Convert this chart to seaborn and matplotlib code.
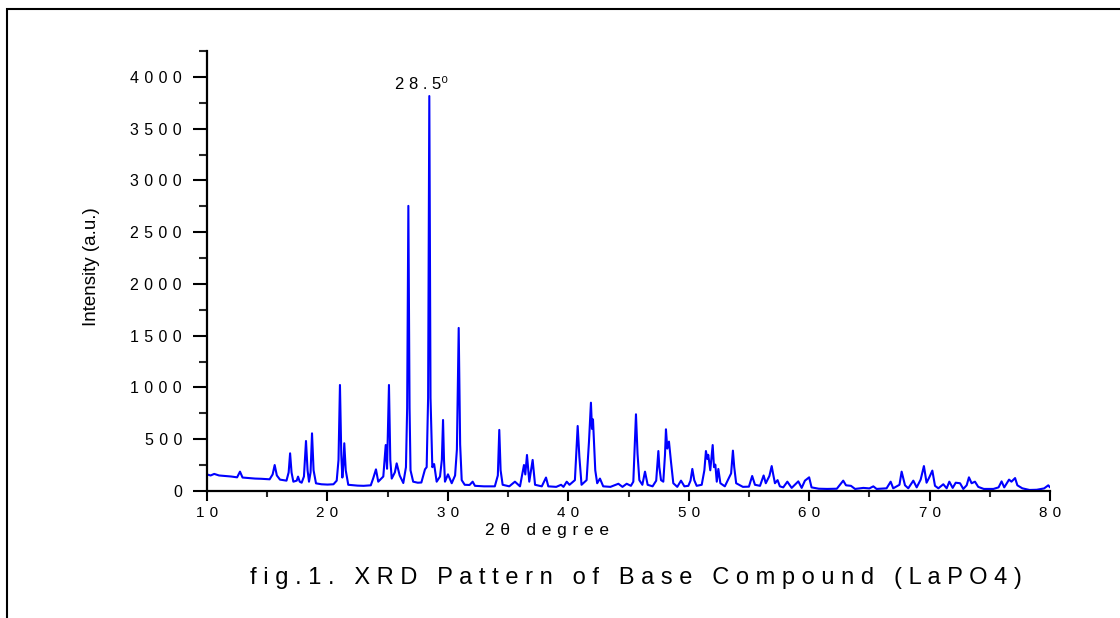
import matplotlib
matplotlib.use("Agg")
import matplotlib.pyplot as plt
import seaborn as sns
import pandas as pd
from matplotlib.patches import Rectangle
from matplotlib.ticker import FixedLocator, FixedFormatter, MultipleLocator

# ---- data ----
two_theta = [
    10.0, 10.3, 10.6, 11.0, 11.5, 12.0, 12.5, 12.74, 12.95, 13.5, 14.0, 14.5, 15.2, 15.45, 15.62, 15.8,
    16.06, 16.6, 16.78, 16.9, 17.02, 17.17, 17.45, 17.56, 17.7, 17.86, 18.05, 18.22, 18.35, 18.47, 18.6,
    18.72, 18.85, 19.05, 19.5, 20.0, 20.5, 20.77, 20.92, 21.04, 21.15, 21.24, 21.32, 21.4, 21.52, 21.73,
    22.5, 23.0, 23.6, 23.8, 24.03, 24.22, 24.64, 24.84, 24.95, 25.11, 25.22, 25.34, 25.6, 25.75, 25.89,
    26.0, 26.3, 26.52, 26.62, 26.72, 26.82, 26.9, 27.12, 27.5, 27.8, 28.1, 28.24, 28.36, 28.46, 28.56,
    28.71, 28.86, 29.07, 29.35, 29.5, 29.6, 29.68, 29.76, 30.01, 30.32, 30.6, 30.75, 30.9, 31.02, 31.15,
    31.4, 31.8, 32.06, 32.25, 33.0, 33.9, 34.15, 34.27, 34.38, 34.55, 35.1, 35.57, 35.99, 36.32, 36.43,
    36.57, 36.76, 37.04, 37.24, 37.8, 38.15, 38.34, 39.0, 39.4, 39.6, 39.87, 40.1, 40.55, 40.78, 40.92,
    41.1, 41.52, 41.72, 41.88, 41.97, 42.05, 42.24, 42.4, 42.63, 42.9, 43.5, 44.16, 44.5, 44.85, 45.2,
    45.4, 45.62, 45.75, 45.9, 46.15, 46.37, 46.59, 47.0, 47.3, 47.48, 47.56, 47.7, 47.89, 48.03, 48.11,
    48.22, 48.36, 48.53, 48.72, 49.05, 49.36, 49.64, 49.97, 50.15, 50.3, 50.46, 50.66, 51.08, 51.3,
    51.43, 51.54, 51.62, 51.79, 51.99, 52.1, 52.21, 52.33, 52.46, 52.63, 53.0, 53.52, 53.67, 53.78,
    53.94, 54.5, 55.0, 55.27, 55.5, 55.92, 56.22, 56.4, 56.7, 56.89, 57.0, 57.16, 57.38, 57.57, 57.85,
    58.19, 58.55, 59.1, 59.38, 59.65, 60.0, 60.2, 60.8, 61.5, 62.3, 62.83, 63.06, 63.47, 63.81, 64.5,
    65.0, 65.33, 65.6, 66.43, 66.77, 66.98, 67.5, 67.68, 67.96, 68.23, 68.65, 68.93, 69.26, 69.53,
    69.75, 69.97, 70.23, 70.45, 70.73, 71.14, 71.42, 71.64, 71.92, 72.17, 72.53, 72.8, 73.08, 73.27,
    73.49, 73.77, 74.04, 74.5, 75.3, 75.73, 75.98, 76.2, 76.6, 76.8, 77.1, 77.29, 77.7, 78.3, 78.9,
    79.51, 79.86, 80.0,
]
intensity = [
    160, 150, 165, 150, 145, 140, 132, 187, 130, 125, 120, 118, 113, 160, 251, 150,
    110, 100, 180, 364, 180, 90, 100, 139, 90, 80, 140, 483, 200, 90, 180,
    557, 200, 74, 65, 62, 65, 100, 300, 1024, 350, 130, 250, 461, 200, 60,
    52, 50, 55, 122, 209, 90, 140, 444, 215, 1024, 300, 120, 180, 267, 200,
    150, 77, 230, 800, 2754, 800, 200, 90, 80, 82, 209, 230, 900, 3815, 900,
    230, 260, 90, 140, 300, 686, 300, 90, 161, 75, 150, 400, 1575, 450, 105,
    60, 58, 90, 50, 45, 45, 150, 590, 200, 60, 45, 90, 45, 251, 160,
    348, 90, 300, 60, 45, 130, 45, 40, 60, 40, 90, 60, 105, 628, 330,
    60, 105, 480, 853, 600, 692, 200, 75, 120, 45, 40, 70, 40, 70, 50,
    90, 741, 360, 105, 60, 187, 60, 45, 100, 386, 230, 105, 90, 350, 596,
    410, 477, 280, 75, 40, 100, 45, 50, 100, 213, 105, 50, 60, 200,
    386, 310, 350, 200, 444, 230, 255, 90, 213, 75, 45, 170, 390, 230,
    75, 40, 42, 145, 60, 50, 150, 75, 145, 241, 170, 75, 105, 45, 35,
    90, 30, 93, 30, 100, 132, 35, 22, 20, 22, 100, 55, 50, 20, 30,
    25, 45, 20, 26, 90, 26, 60, 187, 55, 26, 100, 35, 110, 241,
    80, 130, 197, 50, 26, 65, 26, 90, 30, 80, 75, 20, 55, 132,
    75, 90, 40, 20, 20, 35, 93, 35, 110, 90, 125, 55, 26, 10, 12,
    25, 55, 35,
]
x_ticks = [10, 20, 30, 40, 50, 60, 70, 80]
y_ticks = [0, 500, 1000, 1500, 2000, 2500, 3000, 3500, 4000]
peak_label = "28.5"
x_label = "2θ degree"
y_label = "Intensity (a.u.)"
title = "fig.1. XRD Pattern of Base Compound (LaPO4)"

SP = "\u2004"


def spaced(s, sep=SP):
    return sep.join(s)


sns.set_theme(style="ticks")
plt.rcParams["font.family"] = ["Liberation Sans", "DejaVu Sans"]

fig = plt.figure(figsize=(11.2, 6.18), dpi=100)
ax = fig.add_axes([207 / 1120, 1 - 491 / 618, 843 / 1120, 440 / 618])

df = pd.DataFrame({"two_theta": two_theta, "intensity": intensity})
sns.lineplot(data=df, x="two_theta", y="intensity", ax=ax, color="#0000ff",
             linewidth=1.5, estimator=None, sort=False)

ax.set_xlim(10, 80)
ax.set_ylim(0, 4250)
sns.despine(ax=ax)
for side in ("left", "bottom"):
    ax.spines[side].set_linewidth(1.6)
    ax.spines[side].set_color("black")

ax.xaxis.set_major_locator(FixedLocator(x_ticks))
ax.xaxis.set_major_formatter(FixedFormatter([spaced(str(v)) for v in x_ticks]))
ax.xaxis.set_minor_locator(MultipleLocator(5))
ax.yaxis.set_major_locator(FixedLocator(y_ticks))
ax.yaxis.set_major_formatter(FixedFormatter([spaced(str(v)) for v in y_ticks]))
ax.yaxis.set_minor_locator(MultipleLocator(250))

ax.tick_params(axis="y", which="major", direction="out", length=10, width=1.5,
               pad=8, labelsize=11.5, colors="black")
ax.tick_params(axis="y", which="minor", direction="out", length=6, width=1.5)
ax.tick_params(axis="x", which="major", direction="out", length=7, width=1.5,
               pad=3.5, labelsize=11, colors="black")
ax.tick_params(axis="x", which="minor", direction="out", length=4, width=1.5)

ax.set_xlabel(spaced(x_label), fontsize=12.5, color="black")
ax.xaxis.set_label_coords((547 - 207) / 843, -(531 - 491) / 440)
ax.xaxis.label.set_va("center")
ax.set_ylabel(y_label, fontsize=13.5, color="black")
ax.yaxis.set_label_coords((92 - 207) / 843, (491 - 267) / 440)
ax.yaxis.label.set_va("center")

ax.text(27.85, 3930, spaced(peak_label, " ") + "\u2070", ha="center", va="center",
        fontsize=12, color="black", family=["Liberation Sans", "DejaVu Sans"])

fig.text(636 / 1120, 1 - 578 / 618, spaced(title, " "), ha="center", va="center",
         fontsize=17, color="black")

fig.patches.append(Rectangle((7 / 1120, -0.1), 1.2, 1 - 9 / 618 + 0.1,
                             transform=fig.transFigure, fill=False,
                             edgecolor="black", linewidth=1.5))

fig.savefig("out.png", dpi=100, facecolor="white")
